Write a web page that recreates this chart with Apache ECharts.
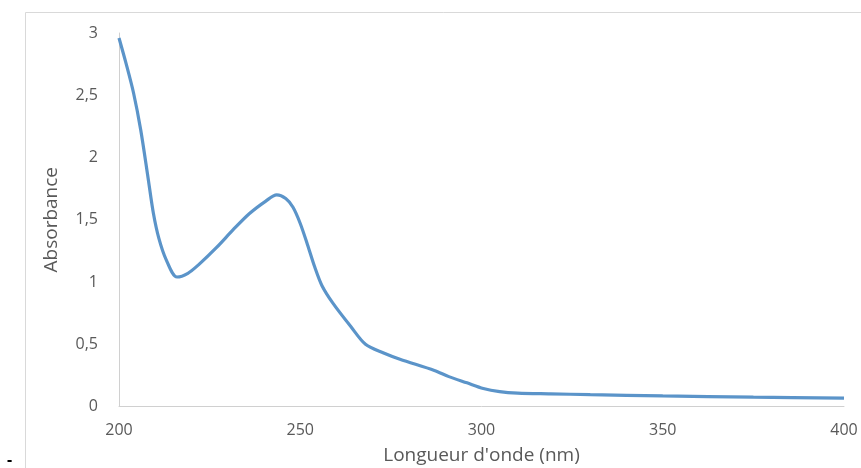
<!DOCTYPE html>
<html>
<head>
<meta charset="utf-8">
<script src="https://cdn.jsdelivr.net/npm/echarts@6/dist/echarts.min.js"></script>
<style>html,body{margin:0;padding:0;background:#fff}#c{width:861px;height:468px}</style>
</head>
<body>
<div id="c"></div>
<script>
const wavelengths = [200,202,204,206,208,209.5,211,213,216,219,222,227,231.5,236,240.5,243.5,246,248,250,252,254,256,259,264,268,273,277.5,287,291,296,300.5,305,310,319,330,350,375,400];
const absorbance = [2.96,2.75,2.52,2.22,1.84,1.55,1.35,1.18,1.04,1.07,1.14,1.28,1.42,1.55,1.65,1.70,1.67,1.60,1.47,1.30,1.12,0.97,0.83,0.64,0.50,0.43,0.38,0.29,0.24,0.19,0.145,0.12,0.108,0.102,0.095,0.085,0.075,0.068];
const xTicks = [200,250,300,350,400];
const yTicks = [0,0.5,1,1.5,2,2.5,3];
const xName = "Longueur d'onde (nm)";
const yName = "Absorbance";

const chart = echarts.init(document.getElementById('c'), null, {renderer:'canvas'});
const font = "'Open Sans', 'Liberation Sans', sans-serif";
chart.setOption({
  animation:false,
  backgroundColor:'#fff',
  graphic:[
    {type:'rect', left:23, top:10, shape:{width:900, height:500}, style:{fill:'none', stroke:'#d9d9d9', lineWidth:1}, silent:true},
    {type:'text', left:7, top:452, style:{text:'-', fill:'#000', font:"bold 16px "+font}}
  ],
  grid:{left:119, right:17, top:33, bottom:61.5, containLabel:false, outerBoundsMode:'none'},
  xAxis:{
    type:'value', min:xTicks[0], max:xTicks[xTicks.length-1], interval:50,
    name:xName, nameLocation:'middle', nameGap:40,
    nameTextStyle:{color:'#595959', fontSize:19, fontFamily:font},
    axisLine:{show:true, lineStyle:{color:'#d0d0d0', width:1}},
    axisTick:{show:false},
    splitLine:{show:false},
    axisLabel:{color:'#595959', fontSize:16, fontFamily:font, margin:16}
  },
  yAxis:{
    type:'value', min:yTicks[0], max:yTicks[yTicks.length-1], interval:0.5,
    name:yName, nameLocation:'middle', nameGap:58, nameRotate:90,
    nameTextStyle:{color:'#595959', fontSize:19, fontFamily:font},
    axisLine:{show:true, lineStyle:{color:'#d0d0d0', width:1}},
    axisTick:{show:false},
    splitLine:{show:false},
    axisLabel:{color:'#595959', fontSize:16, fontFamily:font, margin:21,
      formatter:v=>String(v).replace('.',',')}
  },
  series:[{
    type:'line',
    data:wavelengths.map((w,i)=>[w,absorbance[i]]),
    smooth:0.3,
    showSymbol:false,
    lineStyle:{color:'#5b94c9', width:3.2}
  }]
});
</script>
</body>
</html>
